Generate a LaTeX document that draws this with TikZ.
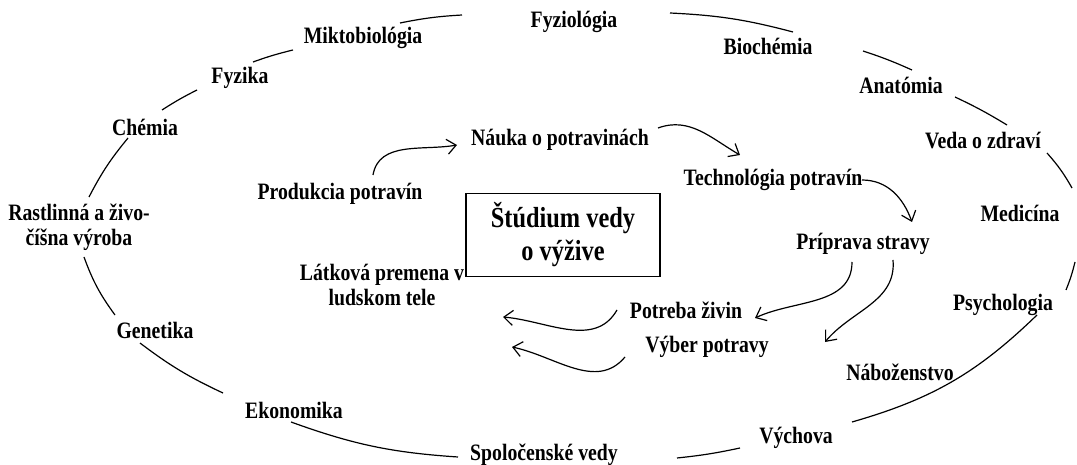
\documentclass[tikz,border=0pt]{standalone}
\usepackage{fontspec}
\setmainfont{Liberation Serif}[FakeStretch=0.84]
\usetikzlibrary{arrows.meta}

\begin{document}
\begin{tikzpicture}[x=1pt,y=1pt,
  lbl/.style={font=\fontsize{23.5}{25}\selectfont\bfseries, inner sep=0pt, align=center},
  titlebox/.style={draw, line width=1.2pt, minimum width=194pt, minimum height=83pt,
    inner sep=0pt, align=center, font=\fontsize{29}{33}\selectfont\bfseries},
  ring/.style={line width=1.2pt},
  flow/.style={line width=1.2pt, -{Straight Barb[length=9pt,width=15pt]}},
]
\useasboundingbox (0,0) rectangle (1077,-465);

% outer ring of related sciences
\node[lbl] (fyziologia)  at (574,-22)  {Fyziológia};
\node[lbl] (mikto)       at (363,-38)  {Miktobiológia};
\node[lbl] (biochemia)   at (768,-46)  {Biochémia};
\node[lbl] (fyzika)      at (240,-78)  {Fyzika};
\node[lbl] (anatomia)    at (901,-85)  {Anatómia};
\node[lbl] (chemia)      at (145,-127) {Chémia};
\node[lbl] (veda)        at (983,-141) {Veda o zdraví};
\node[lbl] (rastlinna)   at (79,-227)  {Rastlinná a živo-\\číšna výroba};
\node[lbl] (medicina)    at (1020,-213) {Medicína};
\node[lbl] (psychologia) at (1003,-305) {Psychologia};
\node[lbl] (genetika)    at (155,-330) {Genetika};
\node[lbl] (nabozenstvo) at (900,-372) {Náboženstvo};
\node[lbl] (ekonomika)   at (294,-410) {Ekonomika};
\node[lbl] (vychova)     at (796,-438) {Výchova};
\node[lbl] (spolocenske) at (544,-455) {Spoločenské vedy};

% inner chain
\node[lbl] (nauka)       at (560,-140) {Náuka o potravinách};
\node[lbl] (produkcia)   at (340,-194) {Produkcia potravín};
\node[lbl] (technologia) at (773,-180) {Technológia potravín};
\node[titlebox] (studium) at (563,-235) {Štúdium vedy\\o výžive};
\node[lbl] (priprava)    at (863,-244) {Príprava stravy};
\node[lbl] (latkova)     at (382,-285) {Látková premena v\\ludskom tele};
\node[lbl] (potreba)     at (686,-310) {Potreba živin};
\node[lbl] (vyber)       at (707,-347) {Výber potravy};

% ring segment end points
\coordinate (r1a) at (400,-23);  \coordinate (r1b) at (462,-15);
\coordinate (r2a) at (670,-13);  \coordinate (r2b) at (793,-32);
\coordinate (r3a) at (863,-51);  \coordinate (r3b) at (912,-70);
\coordinate (r4a) at (955,-97);  \coordinate (r4b) at (1007,-125);
\coordinate (r5a) at (1047,-153); \coordinate (r5b) at (1072,-188);
\coordinate (r6a) at (1075,-262); \coordinate (r6b) at (1066,-290);
\coordinate (r7a) at (1037,-315); \coordinate (r7b) at (852,-422);
\coordinate (r8a) at (740,-448);  \coordinate (r8b) at (677,-458);
\coordinate (r9a) at (458,-457);  \coordinate (r9b) at (291,-422);
\coordinate (r10a) at (223,-393); \coordinate (r10b) at (140,-343);
\coordinate (r11a) at (115,-315); \coordinate (r11b) at (84,-257);
\coordinate (r12a) at (89,-197);  \coordinate (r12b) at (128,-138);
\coordinate (r13a) at (162,-110); \coordinate (r13b) at (197,-90);
\coordinate (r14a) at (253,-62);  \coordinate (r14b) at (293,-50);

\draw[ring] (r1a) to[bend left=4] (r1b);
\draw[ring] (r2a) to[bend left=6] (r2b);
\draw[ring] (r3a) to[bend left=3] (r3b);
\draw[ring] (r4a) to[bend left=3] (r4b);
\draw[ring] (r5a) to[bend left=6] (r5b);
\draw[ring] (r6a) to[bend left=4] (r6b);
\draw[ring] (r7a) to[bend left=14] (r7b);
\draw[ring] (r8a) to[bend left=3] (r8b);
\draw[ring] (r9a) to[bend left=8] (r9b);
\draw[ring] (r10a) to[bend left=6] (r10b);
\draw[ring] (r11a) to[bend left=8] (r11b);
\draw[ring] (r12a) to[bend left=6] (r12b);
\draw[ring] (r13a) to[bend left=3] (r13b);
\draw[ring] (r14a) to[bend left=3] (r14b);

% arrow end points
\coordinate (a1s) at (373,-175); \coordinate (a1e) at (457,-145);
\coordinate (a2s) at (658,-128); \coordinate (a2e) at (740,-155);
\coordinate (a3s) at (862,-180); \coordinate (a3e) at (912,-222);
\coordinate (a4s) at (852,-262); \coordinate (a4e) at (755,-318);
\coordinate (a5s) at (893,-260); \coordinate (a5e) at (825,-342);
\coordinate (a6s) at (617,-310); \coordinate (a6e) at (503,-317);
\coordinate (a7s) at (625,-357); \coordinate (a7e) at (512,-347);

\draw[flow] (a1s) to[out=80,in=190] (a1e);
\draw[flow] (a2s) to[out=20,in=150] (a2e);
\draw[flow] (a3s) to[out=0,in=110] (a3e);
\draw[flow] (a4s) to[out=-90,in=25] (a4e);
\draw[flow] (a5s) to[out=-85,in=50] (a5e);
\draw[flow] (a6s) to[out=-120,in=-5] (a6e);
\draw[flow] (a7s) to[out=-130,in=-12] (a7e);
\end{tikzpicture}
\end{document}
